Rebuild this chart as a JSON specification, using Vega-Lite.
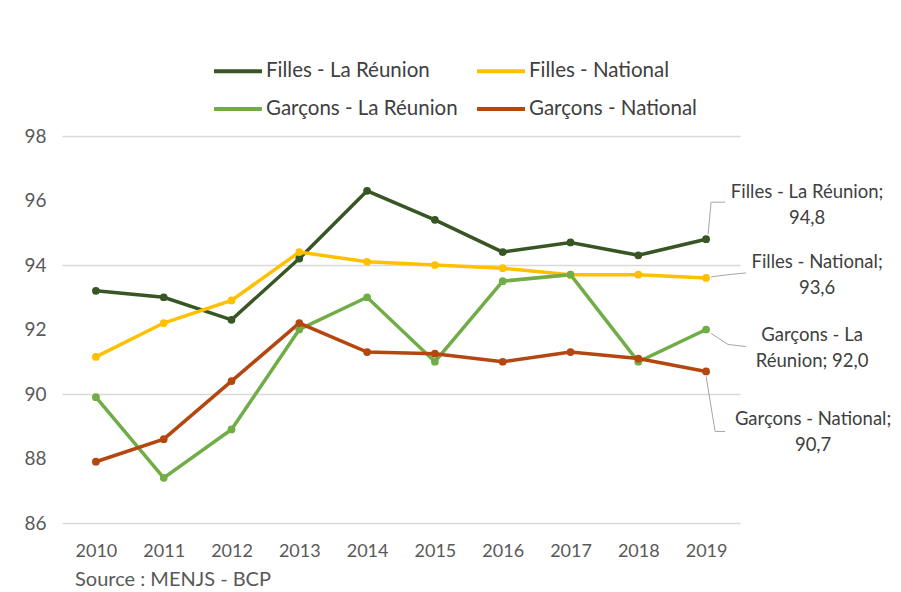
{
  "$schema": "https://vega.github.io/schema/vega-lite/v6.json",
  "width": 678,
  "height": 387,
  "autosize": {"type": "none"},
  "padding": {"left": 62, "top": 136, "right": 161, "bottom": 69},
  "background": "white",
  "config": {
    "font": "Lato",
    "view": {"stroke": null},
    "axis": {"labelFont": "Lato", "labelColor": "#595959", "ticks": false, "domain": false}
  },
  "title": {"text": "Source : MENJS - BCP", "orient": "bottom", "anchor": "start", "frame": "group", "offset": 10, "dx": 13, "fontSize": 20, "fontWeight": "normal", "color": "#595959", "font": "Lato"},
  "data": {"values": [
    {"year": "2010", "series": "Filles - La Réunion", "value": 93.2},
    {"year": "2011", "series": "Filles - La Réunion", "value": 93.0},
    {"year": "2012", "series": "Filles - La Réunion", "value": 92.3},
    {"year": "2013", "series": "Filles - La Réunion", "value": 94.2},
    {"year": "2014", "series": "Filles - La Réunion", "value": 96.3},
    {"year": "2015", "series": "Filles - La Réunion", "value": 95.4},
    {"year": "2016", "series": "Filles - La Réunion", "value": 94.4},
    {"year": "2017", "series": "Filles - La Réunion", "value": 94.7},
    {"year": "2018", "series": "Filles - La Réunion", "value": 94.3},
    {"year": "2019", "series": "Filles - La Réunion", "value": 94.8},
    {"year": "2010", "series": "Filles - National", "value": 91.15},
    {"year": "2011", "series": "Filles - National", "value": 92.2},
    {"year": "2012", "series": "Filles - National", "value": 92.9},
    {"year": "2013", "series": "Filles - National", "value": 94.4},
    {"year": "2014", "series": "Filles - National", "value": 94.1},
    {"year": "2015", "series": "Filles - National", "value": 94.0},
    {"year": "2016", "series": "Filles - National", "value": 93.9},
    {"year": "2017", "series": "Filles - National", "value": 93.7},
    {"year": "2018", "series": "Filles - National", "value": 93.7},
    {"year": "2019", "series": "Filles - National", "value": 93.6},
    {"year": "2010", "series": "Garçons - La Réunion", "value": 89.9},
    {"year": "2011", "series": "Garçons - La Réunion", "value": 87.4},
    {"year": "2012", "series": "Garçons - La Réunion", "value": 88.9},
    {"year": "2013", "series": "Garçons - La Réunion", "value": 92.0},
    {"year": "2014", "series": "Garçons - La Réunion", "value": 93.0},
    {"year": "2015", "series": "Garçons - La Réunion", "value": 91.0},
    {"year": "2016", "series": "Garçons - La Réunion", "value": 93.5},
    {"year": "2017", "series": "Garçons - La Réunion", "value": 93.7},
    {"year": "2018", "series": "Garçons - La Réunion", "value": 91.0},
    {"year": "2019", "series": "Garçons - La Réunion", "value": 92.0},
    {"year": "2010", "series": "Garçons - National", "value": 87.9},
    {"year": "2011", "series": "Garçons - National", "value": 88.6},
    {"year": "2012", "series": "Garçons - National", "value": 90.4},
    {"year": "2013", "series": "Garçons - National", "value": 92.2},
    {"year": "2014", "series": "Garçons - National", "value": 91.3},
    {"year": "2015", "series": "Garçons - National", "value": 91.25},
    {"year": "2016", "series": "Garçons - National", "value": 91.0},
    {"year": "2017", "series": "Garçons - National", "value": 91.3},
    {"year": "2018", "series": "Garçons - National", "value": 91.1},
    {"year": "2019", "series": "Garçons - National", "value": 90.7}
  ]},
  "encoding": {
    "x": {"field": "year", "type": "ordinal", "scale": {"paddingInner": 0, "paddingOuter": 0.5}, "axis": {"title": null, "labelAngle": 0, "labelPadding": 19, "labelFontSize": 18, "grid": false}},
    "y": {"field": "value", "type": "quantitative", "scale": {"domain": [86, 98], "nice": false, "zero": false},
      "axis": {"title": null, "values": [86, 88, 90, 92, 94, 96, 98], "labelPadding": 16, "labelFontSize": 19, "grid": true, "gridColor": "#d9d9d9", "gridWidth": 1.3,
        "gridOpacity": {"condition": {"test": "datum.value % 4 == 2", "value": 1}, "value": 0}}}
  },
  "layer": [
    {
      "transform": [{"filter": "datum.series == 'Filles - La Réunion' && datum.year == '2019'"}],
      "mark": {"type": "point", "shape": "M0.02,-0.05L0.05,-0.37L0.19,-0.37", "size": 40000, "filled": false, "stroke": "#a6a6a6", "strokeWidth": 1, "opacity": 1}
    },
    {
      "transform": [{"filter": "datum.series == 'Filles - National' && datum.year == '2019'"}],
      "mark": {"type": "point", "shape": "M0.05,-0.01L0.2,-0.03L0.4,-0.05", "size": 40000, "filled": false, "stroke": "#a6a6a6", "strokeWidth": 1, "opacity": 1}
    },
    {
      "transform": [{"filter": "datum.series == 'Garçons - La Réunion' && datum.year == '2019'"}],
      "mark": {"type": "point", "shape": "M0.05,0.04L0.22,0.15L0.4,0.17", "size": 40000, "filled": false, "stroke": "#a6a6a6", "strokeWidth": 1, "opacity": 1}
    },
    {
      "transform": [{"filter": "datum.series == 'Garçons - National' && datum.year == '2019'"}],
      "mark": {"type": "point", "shape": "M0.0,0.05L0.09,0.6L0.19,0.6", "size": 40000, "filled": false, "stroke": "#a6a6a6", "strokeWidth": 1, "opacity": 1}
    },
    {
      "mark": {"type": "line", "strokeWidth": 3.5, "point": {"size": 60, "filled": true, "opacity": 1}},
      "encoding": {
        "color": {"field": "series", "type": "nominal",
          "scale": {"domain": ["Filles - La Réunion", "Filles - National", "Garçons - La Réunion", "Garçons - National"], "range": ["#375623", "#FFC000", "#70AD47", "#B4470F"]},
          "legend": {"title": null, "orient": "none", "legendX": 150, "legendY": -91, "columns": 2, "direction": "horizontal", "symbolType": "stroke", "symbolStrokeWidth": 4, "symbolSize": 2300, "labelFontSize": 20.5, "labelLimit": 400, "labelColor": "#404040", "labelFont": "Lato", "columnPadding": 11, "rowPadding": 1, "labelOffset": 2, "symbolOffset": 0}
        }
      }
    },
    {
      "transform": [{"filter": "datum.series == 'Filles - La Réunion' && datum.year == '2019'"}],
      "mark": {"type": "text", "text": ["Filles - La Réunion;", "94,8"], "dx": 101, "dy": -47, "fontSize": 18.5, "lineHeight": 26, "color": "#404040", "font": "Lato"}
    },
    {
      "transform": [{"filter": "datum.series == 'Filles - National' && datum.year == '2019'"}],
      "mark": {"type": "text", "text": ["Filles - National;", "93,6"], "dx": 111, "dy": -16, "fontSize": 18.5, "lineHeight": 26, "color": "#404040", "font": "Lato"}
    },
    {
      "transform": [{"filter": "datum.series == 'Garçons - La Réunion' && datum.year == '2019'"}],
      "mark": {"type": "text", "text": ["Garçons - La", "Réunion; 92,0"], "dx": 106, "dy": 5, "fontSize": 18.5, "lineHeight": 26, "color": "#404040", "font": "Lato"}
    },
    {
      "transform": [{"filter": "datum.series == 'Garçons - National' && datum.year == '2019'"}],
      "mark": {"type": "text", "text": ["Garçons - National;", "90,7"], "dx": 107, "dy": 48, "fontSize": 18.5, "lineHeight": 26, "color": "#404040", "font": "Lato"}
    }
  ]
}
